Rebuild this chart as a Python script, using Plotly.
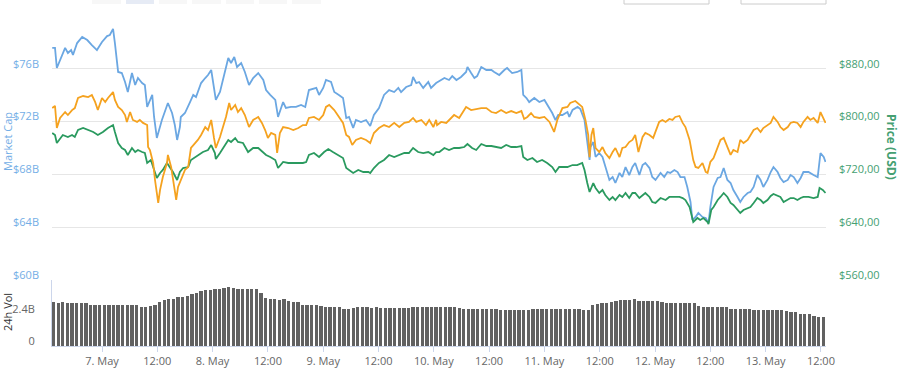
import pandas as pd
import plotly.graph_objects as go

START = pd.Timestamp("2018-05-06 13:00")
X_RANGE = ["2018-05-06 13:09", "2018-05-13 13:06"]

# (hours after START, market cap in billions USD)
mcap_points = [
    (0.2, 77.58), (0.8, 77.58), (1.2, 76.06), (1.9, 76.67), (3.0, 77.58), (3.6, 77.20), (4.3, 77.42),
    (4.7, 77.05), (5.6, 77.95), (6.7, 78.41), (7.8, 78.18), (8.8, 77.80), (9.9, 77.42), (11.0, 78.03),
    (12.1, 78.48), (12.7, 78.56), (13.4, 79.02), (13.8, 77.95), (14.5, 75.76), (15.3, 75.68), (16.0, 75.00),
    (16.6, 74.24), (17.5, 75.68), (18.2, 74.77), (18.8, 75.30), (19.7, 74.92), (20.3, 74.77), (20.8, 73.11),
    (21.4, 73.64), (21.9, 74.02), (22.3, 72.35), (22.9, 70.76), (24.0, 72.12), (24.7, 72.88), (25.3, 73.41),
    (26.2, 72.65), (26.8, 71.74), (27.3, 70.61), (27.9, 71.59), (28.1, 72.35), (29.0, 72.65), (30.1, 73.48),
    (30.8, 74.02), (31.4, 73.86), (32.5, 74.92), (33.4, 75.30), (34.0, 75.53), (34.7, 75.91), (35.1, 75.00),
    (35.7, 73.64), (36.6, 74.24), (37.3, 75.30), (37.9, 76.14), (38.4, 76.82), (39.0, 76.44), (39.7, 76.89),
    (40.3, 76.14), (41.2, 76.44), (42.0, 75.76), (42.9, 74.77), (43.8, 75.30), (44.9, 75.68), (46.0, 75.15),
    (46.6, 74.39), (47.5, 74.02), (48.6, 73.64), (49.2, 72.35), (50.3, 73.48), (50.9, 73.03), (52.0, 73.11),
    (53.1, 73.11), (54.2, 73.26), (55.1, 73.11), (55.9, 74.39), (57.5, 74.55), (58.1, 74.02), (59.0, 74.55),
    (59.6, 75.15), (60.7, 75.00), (61.4, 74.24), (62.4, 74.02), (63.3, 73.79), (64.0, 72.27), (64.6, 72.35),
    (65.5, 71.52), (66.1, 72.12), (67.2, 71.97), (68.3, 72.12), (69.2, 71.67), (70.0, 72.50), (71.1, 73.03),
    (72.2, 74.02), (73.3, 74.39), (74.4, 74.24), (75.3, 74.55), (75.9, 74.24), (77.0, 74.62), (78.1, 74.77),
    (78.5, 75.38), (79.2, 74.92), (79.8, 75.00), (80.7, 74.55), (81.8, 75.00), (82.4, 74.55), (83.5, 74.92),
    (85.3, 75.30), (86.3, 75.15), (87.0, 75.45), (87.9, 75.15), (88.9, 75.38), (90.0, 75.76), (90.3, 76.14),
    (91.1, 75.68), (91.8, 75.30), (92.4, 75.45), (93.3, 76.14), (94.4, 75.91), (95.5, 75.91), (96.1, 75.76),
    (97.2, 75.53), (98.3, 75.91), (98.9, 76.06), (100.0, 75.68), (101.1, 75.76), (102.0, 75.91), (102.4, 74.02),
    (103.1, 73.79), (103.7, 73.48), (104.8, 73.79), (105.9, 73.48), (107.0, 73.64), (108.1, 73.03), (108.7, 72.65),
    (109.4, 72.12), (110.0, 72.50), (110.9, 72.50), (112.0, 72.73), (112.4, 72.35), (113.1, 72.88), (114.2, 73.11),
    (114.8, 72.95), (115.7, 72.12), (116.1, 71.14), (116.8, 69.09), (117.0, 70.08), (117.6, 70.45), (118.1, 69.32),
    (118.9, 69.62), (119.6, 69.32), (120.2, 68.56), (121.1, 67.58), (121.8, 67.80), (122.4, 67.35), (123.3, 68.11),
    (123.9, 67.80), (124.6, 68.56), (125.4, 67.95), (126.1, 68.56), (126.7, 68.86), (127.6, 67.95), (128.3, 68.71),
    (128.9, 68.86), (129.8, 68.48), (130.4, 67.80), (131.1, 67.58), (132.2, 68.11), (133.0, 67.80), (133.7, 68.18),
    (134.3, 68.11), (135.2, 68.33), (135.9, 68.18), (136.5, 67.80), (137.4, 67.80), (138.0, 67.05), (138.7, 65.91),
    (139.1, 64.55), (139.8, 64.77), (140.4, 65.08), (141.3, 64.77), (142.0, 64.70), (142.6, 64.32), (143.0, 65.53),
    (143.7, 67.05), (144.6, 67.73), (145.2, 67.80), (145.9, 68.48), (146.7, 67.58), (147.4, 67.35), (148.0, 66.82),
    (148.9, 66.29), (149.5, 65.91), (150.2, 66.29), (151.1, 66.59), (151.7, 66.67), (152.4, 67.05), (153.2, 67.95),
    (153.9, 67.58), (154.5, 67.05), (155.4, 67.58), (156.1, 68.18), (156.7, 68.56), (157.6, 68.18), (158.2, 67.73),
    (158.9, 67.42), (159.8, 67.58), (160.4, 67.95), (161.1, 67.80), (161.9, 67.35), (162.6, 67.73), (163.2, 68.18),
    (164.3, 68.18), (165.4, 67.95), (166.3, 67.80), (166.9, 69.62), (167.6, 69.32), (168.0, 68.94),
]

# (hours after START, price in USD)
price_usd_points = [
    (0.2, 782.7), (0.8, 779.7), (1.2, 767.6), (1.9, 775.1), (2.5, 779.7), (3.6, 776.7), (4.5, 779.7),
    (5.1, 776.7), (5.8, 787.3), (6.9, 790.3), (8.0, 787.3), (9.1, 784.2), (10.1, 779.7), (11.2, 784.2),
    (12.3, 790.3), (13.4, 794.8), (13.8, 784.2), (14.5, 767.6), (15.3, 760.0), (16.0, 757.0), (16.6, 749.4),
    (17.5, 760.0), (18.2, 753.9), (18.8, 757.0), (19.7, 753.9), (20.3, 752.4), (20.8, 737.3), (21.6, 741.8),
    (22.1, 731.2), (22.9, 714.5), (23.6, 722.1), (24.2, 726.7), (25.1, 737.3), (25.8, 729.7), (26.4, 723.6),
    (27.3, 711.5), (27.9, 723.6), (28.6, 729.7), (29.7, 731.2), (30.3, 741.8), (31.2, 746.4), (31.8, 749.4),
    (32.9, 753.9), (34.0, 757.0), (34.7, 764.5), (35.5, 752.4), (35.7, 743.3), (36.6, 752.4), (37.3, 760.0),
    (38.4, 772.1), (39.0, 769.1), (39.9, 775.1), (40.5, 769.1), (41.6, 767.6), (42.7, 753.9), (43.8, 760.0),
    (44.9, 760.0), (46.0, 753.9), (46.6, 749.4), (47.5, 746.4), (48.6, 741.8), (49.2, 729.7), (50.3, 738.8),
    (51.4, 737.3), (52.5, 737.3), (53.6, 737.3), (54.6, 737.3), (55.3, 738.8), (55.9, 749.4), (57.0, 752.4),
    (58.1, 746.4), (59.2, 753.9), (60.1, 758.5), (61.1, 753.9), (62.2, 749.4), (63.3, 744.8), (64.0, 729.7),
    (64.6, 726.7), (65.5, 722.1), (66.6, 726.7), (67.7, 723.6), (68.8, 723.6), (69.2, 722.1), (70.0, 729.7),
    (71.1, 737.3), (72.2, 741.8), (73.3, 749.4), (74.4, 746.4), (75.5, 749.4), (76.6, 752.4), (77.6, 752.4),
    (78.5, 760.0), (79.6, 753.9), (80.7, 752.4), (81.8, 753.9), (82.9, 749.4), (83.5, 753.9), (84.2, 753.9),
    (85.3, 760.0), (86.3, 757.0), (87.4, 760.0), (88.5, 760.0), (89.6, 761.5), (90.3, 766.1), (91.3, 760.0),
    (92.2, 757.0), (93.3, 766.1), (94.4, 763.0), (95.5, 763.0), (96.5, 761.5), (97.6, 760.0), (98.7, 764.5),
    (99.8, 761.5), (100.9, 761.5), (102.0, 763.0), (102.4, 746.4), (103.3, 741.8), (104.4, 744.8), (105.4, 738.8),
    (106.5, 741.8), (107.6, 737.3), (108.7, 731.2), (109.4, 723.6), (110.2, 731.2), (110.9, 731.2), (112.0, 731.2),
    (113.1, 734.2), (114.1, 734.2), (115.2, 737.3), (115.7, 726.7), (116.3, 706.9), (116.8, 693.3), (117.6, 706.9),
    (118.1, 699.4), (118.9, 691.8), (119.6, 696.4), (120.2, 688.8), (121.1, 681.2), (121.8, 685.8), (122.4, 681.2),
    (123.3, 688.8), (123.9, 685.8), (124.6, 691.8), (125.4, 684.2), (126.1, 691.8), (126.7, 691.8), (127.6, 684.2),
    (128.3, 688.8), (128.9, 691.8), (129.8, 685.8), (130.4, 678.2), (131.1, 676.7), (132.2, 684.2), (133.3, 681.2),
    (134.1, 685.8), (135.2, 685.8), (136.3, 685.8), (137.0, 684.2), (137.6, 681.2), (138.5, 670.6), (139.3, 647.9),
    (140.2, 653.9), (140.8, 650.9), (141.5, 653.9), (142.4, 647.9), (142.6, 644.8), (143.2, 666.1), (143.7, 670.6),
    (144.6, 681.2), (145.2, 685.8), (145.9, 691.8), (146.7, 685.8), (147.4, 676.7), (148.0, 673.6), (148.9, 666.1),
    (149.5, 661.5), (150.2, 666.1), (151.1, 669.1), (151.7, 670.6), (152.4, 676.7), (153.2, 684.2), (153.9, 681.2),
    (154.5, 676.7), (155.4, 681.2), (156.1, 687.3), (156.7, 690.3), (157.6, 687.3), (158.2, 685.8), (158.9, 678.2),
    (159.8, 681.2), (160.4, 684.2), (161.1, 684.2), (161.9, 681.2), (162.6, 684.2), (163.2, 685.8), (164.3, 685.8),
    (165.4, 684.2), (166.3, 685.8), (166.7, 699.4), (167.4, 696.4), (168.0, 691.8),
]

# (hours after START, price in BTC)
price_btc_points = [
    (0.2, 0.08442), (0.8, 0.08455), (1.2, 0.08321), (1.9, 0.08382), (3.0, 0.08418), (3.6, 0.08400), (4.5, 0.08430),
    (5.1, 0.08442), (5.8, 0.08503), (6.9, 0.08515), (8.0, 0.08509), (8.8, 0.08521), (9.5, 0.08479), (10.1, 0.08430),
    (11.0, 0.08503), (11.7, 0.08479), (12.3, 0.08503), (13.4, 0.08539), (13.8, 0.08491), (14.5, 0.08449),
    (15.3, 0.08430), (16.0, 0.08400), (16.4, 0.08358), (17.1, 0.08418), (17.7, 0.08370), (18.6, 0.08358),
    (19.2, 0.08370), (19.9, 0.08352), (20.8, 0.08339), (21.0, 0.08206), (21.4, 0.08188), (22.1, 0.08109),
    (22.5, 0.08006), (22.9, 0.07927), (23.2, 0.07867), (23.6, 0.07946), (24.2, 0.08024), (25.1, 0.08109),
    (25.3, 0.08158), (26.0, 0.08085), (26.4, 0.08006), (27.1, 0.07885), (27.5, 0.07964), (28.1, 0.08006),
    (29.0, 0.08067), (29.7, 0.08085), (30.3, 0.08200), (31.2, 0.08230), (31.8, 0.08249), (32.5, 0.08279),
    (33.4, 0.08327), (34.0, 0.08309), (34.7, 0.08370), (35.3, 0.08261), (35.7, 0.08200), (36.6, 0.08267),
    (37.3, 0.08327), (37.9, 0.08388), (38.6, 0.08473), (39.0, 0.08430), (39.9, 0.08461), (40.5, 0.08418),
    (41.2, 0.08442), (42.0, 0.08400), (42.9, 0.08327), (43.8, 0.08370), (44.9, 0.08388), (45.7, 0.08352),
    (46.4, 0.08309), (47.0, 0.08261), (47.7, 0.08291), (48.6, 0.08279), (49.0, 0.08170), (49.6, 0.08291),
    (50.3, 0.08327), (51.4, 0.08321), (52.5, 0.08309), (53.6, 0.08321), (54.6, 0.08339), (55.3, 0.08339),
    (55.9, 0.08382), (57.0, 0.08388), (58.1, 0.08370), (59.0, 0.08400), (59.6, 0.08449), (60.3, 0.08461),
    (61.4, 0.08430), (62.4, 0.08388), (63.3, 0.08352), (64.0, 0.08279), (64.6, 0.08267), (65.3, 0.08218),
    (66.1, 0.08249), (67.2, 0.08261), (68.3, 0.08249), (69.2, 0.08230), (70.0, 0.08291), (71.1, 0.08321),
    (72.2, 0.08339), (73.3, 0.08327), (74.4, 0.08352), (75.5, 0.08327), (76.6, 0.08352), (77.6, 0.08358),
    (78.5, 0.08382), (79.2, 0.08358), (80.3, 0.08370), (81.3, 0.08339), (82.0, 0.08370), (82.9, 0.08327),
    (83.5, 0.08370), (83.7, 0.08339), (84.6, 0.08358), (85.7, 0.08352), (86.8, 0.08382), (87.4, 0.08400),
    (88.5, 0.08382), (89.2, 0.08412), (90.0, 0.08449), (91.1, 0.08430), (92.2, 0.08436), (93.3, 0.08442),
    (94.4, 0.08442), (95.5, 0.08418), (96.5, 0.08412), (97.6, 0.08430), (98.7, 0.08412), (99.8, 0.08424),
    (100.9, 0.08412), (102.0, 0.08424), (102.6, 0.08376), (103.3, 0.08388), (104.1, 0.08412), (104.8, 0.08388),
    (105.9, 0.08382), (107.0, 0.08388), (108.1, 0.08358), (108.7, 0.08321), (109.1, 0.08297), (109.8, 0.08370),
    (110.9, 0.08442), (112.0, 0.08449), (112.6, 0.08473), (113.7, 0.08485), (114.6, 0.08461), (115.2, 0.08449),
    (115.9, 0.08370), (116.5, 0.08279), (116.8, 0.08145), (117.2, 0.08279), (117.6, 0.08321), (118.1, 0.08200),
    (118.9, 0.08176), (119.6, 0.08206), (120.2, 0.08170), (121.1, 0.08139), (121.8, 0.08176), (122.4, 0.08200),
    (123.3, 0.08145), (123.9, 0.08200), (124.6, 0.08206), (125.4, 0.08236), (126.1, 0.08249), (126.7, 0.08279),
    (127.4, 0.08176), (128.3, 0.08267), (128.9, 0.08291), (129.8, 0.08279), (130.6, 0.08261), (131.1, 0.08297),
    (131.9, 0.08358), (132.6, 0.08370), (133.3, 0.08358), (134.1, 0.08376), (134.8, 0.08370), (135.4, 0.08388),
    (136.3, 0.08394), (137.0, 0.08352), (137.6, 0.08327), (138.5, 0.08249), (139.3, 0.08127), (139.8, 0.08085),
    (140.4, 0.08079), (141.3, 0.08109), (142.0, 0.08055), (142.4, 0.08049), (143.0, 0.08115), (143.7, 0.08139),
    (144.6, 0.08206), (145.2, 0.08249), (145.9, 0.08261), (146.7, 0.08200), (147.4, 0.08158), (148.0, 0.08188),
    (148.9, 0.08176), (149.5, 0.08249), (150.2, 0.08230), (151.1, 0.08249), (151.7, 0.08279), (152.4, 0.08309),
    (153.2, 0.08321), (153.9, 0.08297), (154.5, 0.08321), (155.4, 0.08339), (156.1, 0.08352), (156.7, 0.08388),
    (157.6, 0.08358), (158.2, 0.08327), (158.9, 0.08309), (159.8, 0.08327), (160.4, 0.08352), (161.1, 0.08358),
    (161.9, 0.08352), (162.6, 0.08327), (163.2, 0.08358), (164.1, 0.08388), (164.7, 0.08370), (165.4, 0.08382),
    (166.3, 0.08352), (166.9, 0.08418), (167.4, 0.08388), (168.0, 0.08352),
]

# hourly 24h volume in billions USD (bar i covers hour i after START)
volume_billions = [
    3.28, 3.25, 3.27, 3.25, 3.25, 3.26, 3.25, 3.22,
    3.10, 3.08, 3.08, 3.07, 3.08, 3.08, 3.06, 3.05, 3.06, 3.08, 3.08,
    2.95, 2.92, 3.00, 3.05, 3.33, 3.45, 3.50, 3.50, 3.65, 3.70, 3.72,
    3.90, 3.98, 4.15, 4.20, 4.22, 4.28, 4.30, 4.38, 4.40, 4.35, 4.30, 4.30,
    4.27, 4.25, 4.25, 3.95, 3.63, 3.50, 3.50, 3.48, 3.50, 3.35, 3.30, 3.28,
    3.10, 3.08, 3.08, 3.05, 2.98, 2.95, 2.95, 2.93, 2.90, 2.78, 2.75,
    2.88, 2.90, 2.90, 2.90, 2.88, 2.90, 2.88, 2.88, 2.87, 2.85, 2.85, 2.85, 2.87,
    2.90, 2.90, 2.92, 2.90, 2.90, 2.90, 2.91, 2.90, 2.90, 2.90, 2.88,
    2.78, 2.75, 2.75, 2.75, 2.74, 2.75, 2.75, 2.75, 2.73,
    2.70, 2.70, 2.72, 2.70, 2.70, 2.70,
    2.75, 2.77, 2.77, 2.77, 2.78, 2.77, 2.77, 2.77, 2.77, 2.76, 2.77,
    2.72, 2.70, 3.05, 3.15, 3.20, 3.22, 3.30, 3.35, 3.45, 3.45, 3.48, 3.52,
    3.40, 3.38, 3.38, 3.38, 3.36, 3.33, 3.22, 3.20, 3.20, 3.20, 3.20, 3.20,
    3.26, 3.00, 2.92, 2.95, 2.90, 2.95, 2.95, 2.93,
    2.80, 2.78, 2.77, 2.77, 2.77, 2.72, 2.70, 2.70, 2.70, 2.72, 2.70, 2.68,
    2.60, 2.58, 2.58, 2.42, 2.40, 2.38, 2.22, 2.20, 2.18,
]

x_tick_times = ["2018-05-07 00:00", "2018-05-07 12:00", "2018-05-08 00:00", "2018-05-08 12:00",
                "2018-05-09 00:00", "2018-05-09 12:00", "2018-05-10 00:00", "2018-05-10 12:00",
                "2018-05-11 00:00", "2018-05-11 12:00", "2018-05-12 00:00", "2018-05-12 12:00",
                "2018-05-13 00:00", "2018-05-13 12:00"]
x_tick_labels = ["7. May", "12:00", "8. May", "12:00", "9. May", "12:00", "10. May", "12:00",
                 "11. May", "12:00", "12. May", "12:00", "13. May", "12:00"]
mcap_ticks = [60, 64, 68, 72, 76, 80]
mcap_tick_labels = ["$60B", "$64B", "$68B", "$72B", "$76B", ""]
price_ticks = [560, 640, 720, 800, 880, 960]
price_tick_labels = ["$560,00", "$640,00", "$720,00", "$800,00", "$880,00", ""]
vol_ticks = [0, 2.4]
vol_tick_labels = ["0", "2.4B"]

BLUE = "#6ba7e2"
GREEN = "#2a9a5f"
ORANGE = "#f5a21f"
BLUE_TXT = "#74aee6"
GREEN_TXT = "#45a072"
FONT = "Open Sans"


def to_times(hours):
    return [START + pd.Timedelta(hours=h) for h in hours]


def split(points):
    hs = [p[0] for p in points]
    vs = [p[1] for p in points]
    return to_times(hs), vs


mc_t, mc_v = split(mcap_points)
pu_t, pu_v = split(price_usd_points)
pb_t, pb_v = split(price_btc_points)
vol_t = to_times([i + 0.5 for i in range(len(volume_billions))])

fig = go.Figure()
fig.add_trace(go.Scatter(x=mc_t, y=mc_v, mode="lines", name="Market Cap",
                         line=dict(color=BLUE, width=1.8), yaxis="y"))
fig.add_trace(go.Scatter(x=pu_t, y=pu_v, mode="lines", name="Price (USD)",
                         line=dict(color=GREEN, width=1.8), yaxis="y2"))
fig.add_trace(go.Scatter(x=pb_t, y=pb_v, mode="lines", name="Price (BTC)",
                         line=dict(color=ORANGE, width=1.8), yaxis="y3"))
fig.add_trace(go.Bar(x=vol_t, y=volume_billions, name="24h Vol", yaxis="y4",
                     marker=dict(color="#616161", line=dict(width=0)),
                     width=0.72 * 3600 * 1000))

W, H = 901, 376
L, R, T, B = 52, 75, 16, 30
PW, PH = W - L - R, H - T - B


def px_x(px):
    return (px - L) / PW


def px_y(py):
    return (H - B - py) / PH


fig.update_layout(
    width=W, height=H,
    margin=dict(l=L, r=R, t=T, b=B, pad=0, autoexpand=False),
    paper_bgcolor="white", plot_bgcolor="white",
    showlegend=False, bargap=0,
    font=dict(family=FONT, size=11, color="#666666"),
    xaxis=dict(type="date", range=X_RANGE, anchor="y4", tickvals=x_tick_times, ticktext=x_tick_labels,
               showgrid=False, zeroline=False, showline=True, linecolor="#ccd6eb", linewidth=1,
               ticks="outside", ticklen=5, tickcolor="#ccd6eb", automargin=False,
               tickfont=dict(family=FONT, size=11, color="#666666")),
    yaxis=dict(domain=[0.2, 1.0], range=[60, 80], anchor="x", tickvals=mcap_ticks, ticktext=mcap_tick_labels,
               showgrid=True, gridcolor="#e6e6e6", gridwidth=1, zeroline=False, showline=False,
               ticks="", ticklabelstandoff=12, ticklabelshift=-5, automargin=False,
               tickfont=dict(family=FONT, size=11, color=BLUE_TXT)),
    yaxis2=dict(overlaying="y", side="right", anchor="x", range=[560, 960], tickvals=price_ticks,
                ticktext=price_tick_labels, showgrid=False, zeroline=False, showline=False,
                ticks="", ticklabelstandoff=12, ticklabelshift=-5, automargin=False,
                tickfont=dict(family=FONT, size=11, color=GREEN_TXT)),
    yaxis3=dict(overlaying="y", range=[0.0740, 0.0900], visible=False),
    yaxis4=dict(domain=[0.0, 0.2], range=[0, 4.95], anchor="x", tickvals=vol_ticks, ticktext=vol_tick_labels,
                showgrid=False, zeroline=False, showline=True, linecolor="#ccd6eb", linewidth=1,
                ticks="", ticklabelstandoff=14, ticklabelshift=-5, automargin=False,
                tickfont=dict(family=FONT, size=11, color="#666666")),
)

annotations = [
    dict(text="Market Cap", x=px_x(7), y=px_y(142), textangle=-90,
         font=dict(family=FONT, size=11, color=BLUE_TXT)),
    dict(text="24h Vol", x=px_x(7), y=px_y(312), textangle=-90,
         font=dict(family=FONT, size=11, color="#333333")),
    dict(text="<b>Price (USD)</b>", x=px_x(892), y=px_y(147), textangle=90,
         font=dict(family=FONT, size=12, color=GREEN_TXT)),
]
for a in annotations:
    a.update(xref="paper", yref="paper", showarrow=False, xanchor="center", yanchor="middle")
fig.update_layout(annotations=annotations)

# partial range-selector buttons and date inputs cut off at the top edge
shapes = []
for i, (x0, x1) in enumerate([(92, 121), (126, 154), (159, 187), (192, 221), (226, 254), (259, 287), (292, 321)]):
    shapes.append(dict(type="rect", xref="paper", yref="paper", x0=px_x(x0), x1=px_x(x1),
                       y0=px_y(4), y1=px_y(-2), line=dict(width=0),
                       fillcolor="#e6ebf5" if i == 1 else "#f7f7f7", layer="above"))
for x0, x1 in [(624, 709), (741, 826)]:
    shapes.append(dict(type="rect", xref="paper", yref="paper", x0=px_x(x0), x1=px_x(x1),
                       y0=px_y(4), y1=px_y(-2), line=dict(width=1, color="#cccccc"),
                       fillcolor="white", layer="above"))
fig.update_layout(shapes=shapes)

fig.write_html("out.html", config={"displayModeBar": False},
               post_script="document.body.style.margin='0';document.body.style.overflow='hidden';")
